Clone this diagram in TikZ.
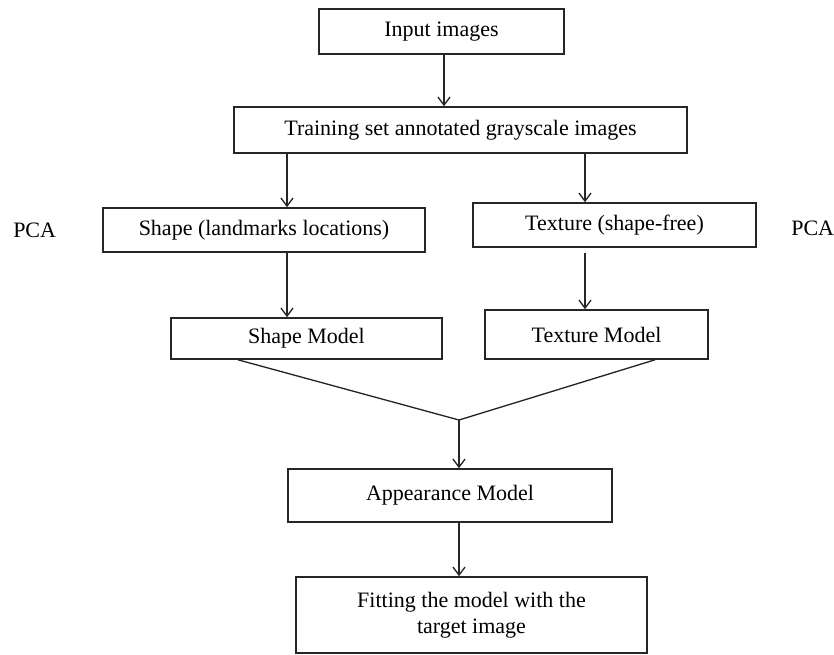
\documentclass[tikz,border=0pt]{standalone}
\usepackage{fontspec}
\setmainfont{Liberation Serif}
\usetikzlibrary{arrows.meta}

\begin{document}
\begin{tikzpicture}[x=0.75pt,y=-0.75pt,
  box/.style={draw=black!85,line width=1.2pt,inner sep=0pt,align=center,
    font=\fontsize{16.5}{19.5}\selectfont},
  boxsize/.style 2 args={minimum width=#1*0.75pt,minimum height=#2*0.75pt},
  lab/.style={inner sep=0pt,anchor=west,font=\fontsize{16.5}{19.5}\selectfont},
  arr/.style={draw=black!85,line width=1pt,-{Straight Barb[length=6pt,width=9pt]}}]

\useasboundingbox (0,0) rectangle (834,654);

%boxes
\node[box,boxsize={245}{45}] (inp) at (441.5,31.5) {Input images};
\node[box,boxsize={453}{46}] (train) at (460.5,130) {Training set annotated grayscale images};
\node[box,boxsize={322}{44}] (shp) at (264,230) {Shape (landmarks locations)};
\node[box,boxsize={283}{44}] (tex) at (614.5,225) {Texture (shape-free)};
\node[box,boxsize={271}{41}] (smod) at (306.5,338.5) {Shape Model};
\node[box,boxsize={223}{49}] (tmod) at (596.5,334.5) {Texture Model};
\node[box,boxsize={324}{53}] (app) at (450,495.5) {Appearance Model};
\node[box,boxsize={351}{76}] (fit) at (471.5,615) {Fitting the model with the\\target image};

\node[lab] (pcaL) at (13,230) {PCA};
\node[lab] (pcaR) at (791,228) {PCA};

%columns of the arrows
\coordinate (iL) at (444,0);
\coordinate (sL) at (287,0);
\coordinate (tL) at (585,0);
\coordinate (sV) at (238,0);
\coordinate (tV) at (655,0);
\coordinate (mg) at (459,420);

%arrows
\draw[arr] (inp.south -| iL) -- (train.north -| iL);
\draw[arr] (train.south -| sL) -- (shp.north -| sL);
\draw[arr] (train.south -| tL) -- (tex.north -| tL);
\draw[arr] (shp.south -| sL) -- (smod.north -| sL);
\draw[arr,shorten <=3.75pt] (tex.south -| tL) -- (tmod.north -| tL);

%merge
\draw[draw=black!85,line width=1pt] (smod.south -| sV) -- (mg) -- (tmod.south -| tV);
\draw[arr] (mg) -- (app.north -| mg);
\draw[arr] (app.south -| mg) -- (fit.north -| mg);

\end{tikzpicture}
\end{document}
